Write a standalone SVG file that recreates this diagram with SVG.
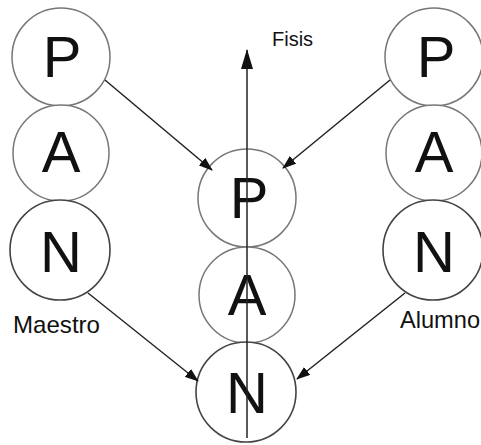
<svg xmlns="http://www.w3.org/2000/svg" width="481" height="445" viewBox="0 0 481 445">
<style>
.c{fill:#fff;stroke:#777;stroke-width:1.5}
.cn{fill:#fff;stroke:#444;stroke-width:1.6}
.l{font-family:"Liberation Sans",Arial,sans-serif;font-size:58px;fill:#111;text-anchor:middle}
.t{font-family:"Liberation Sans",Arial,sans-serif;fill:#111}
.e{stroke:#222;stroke-width:1.5;fill:none}
</style>
<defs>
<marker id="ah" markerWidth="14" markerHeight="10" refX="13" refY="5" orient="auto" markerUnits="userSpaceOnUse">
<path d="M0,0 L14,5 L0,10 Z" fill="#111"/>
</marker>
<marker id="ahv" markerWidth="20" markerHeight="12" refX="19" refY="6" orient="auto" markerUnits="userSpaceOnUse">
<path d="M0,0 L20,6 L0,12 Z" fill="#111"/>
</marker>
</defs>
<g id="maestro-P"><circle class="c" cx="61" cy="57" r="49"/><text class="l" x="62" y="77">P</text></g>
<g id="maestro-A"><circle class="c" cx="61" cy="153" r="48"/><text class="l" x="61" y="172">A</text></g>
<g id="maestro-N"><circle class="cn" cx="60" cy="250" r="50"/><text class="l" x="61" y="272">N</text></g>
<g id="alumno-P"><circle class="c" cx="434" cy="57" r="49"/><text class="l" x="436" y="77">P</text></g>
<g id="alumno-A"><circle class="c" cx="434" cy="153" r="48"/><text class="l" x="434" y="172">A</text></g>
<g id="alumno-N"><circle class="cn" cx="433" cy="250" r="50"/><text class="l" x="434" y="272">N</text></g>
<g id="fisis-P"><circle class="c" cx="247" cy="198" r="49"/><text class="l" x="249" y="218">P</text></g>
<g id="fisis-A"><circle class="c" cx="247" cy="295" r="48"/><text class="l" x="247" y="315">A</text></g>
<g id="fisis-N"><circle class="cn" cx="246" cy="392" r="50"/><text class="l" x="247" y="413">N</text></g>
<g id="labels">
<text class="t" x="272" y="46" font-size="20">Fisis</text>
<text class="t" x="13" y="333" font-size="24" textLength="87" lengthAdjust="spacingAndGlyphs">Maestro</text>
<text class="t" x="400" y="328" font-size="24" textLength="80" lengthAdjust="spacingAndGlyphs">Alumno</text>
</g>
<g id="connectors">
<line class="e" x1="247" y1="438" x2="247" y2="50" marker-end="url(#ahv)"/>
<line class="e" x1="105" y1="80" x2="212" y2="170" marker-end="url(#ah)"/>
<line class="e" x1="390" y1="80" x2="283" y2="168" marker-end="url(#ah)"/>
<line class="e" x1="88" y1="293" x2="198" y2="381" marker-end="url(#ah)"/>
<line class="e" x1="405" y1="293" x2="297" y2="379" marker-end="url(#ah)"/>
</g>
</svg>
